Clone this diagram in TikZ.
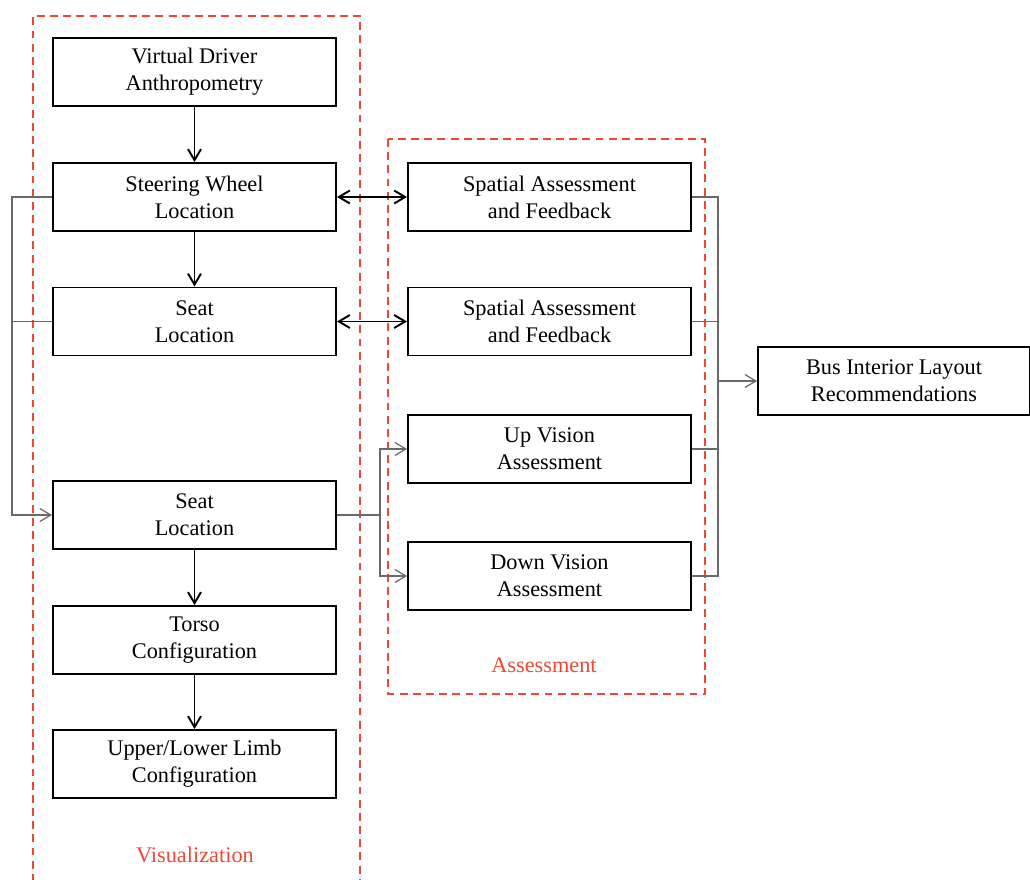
\documentclass[tikz,border=0pt]{standalone}
\usepackage{fontspec}
\setmainfont{Liberation Serif}
\usetikzlibrary{arrows.meta,positioning}
\definecolor{dashred}{RGB}{238,72,52}
\definecolor{linkgray}{RGB}{105,105,105}

\begin{document}
\begin{tikzpicture}[x=0.02cm, y=-0.02cm,
    >={Straight Barb[length=2.2mm,width=2.6mm]},
    stage/.style={draw, line width=1.1pt, minimum width=5.66cm, minimum height=1.36cm,
        inner sep=0pt, align=center, font=\fontsize{12.7}{15.3}\selectfont},
    flow/.style={->, line width=1.1pt},
    link/.style={linkgray, line width=0.7pt},
    group/.style={dashred, line width=1.1pt, dash pattern=on 4.5pt off 3pt},
    grouplabel/.style={text=dashred, font=\fontsize{12.7}{15.3}\selectfont}]
    \useasboundingbox (0,0) rectangle (1030,879);
    % dashed groups
    \draw[group] (33,895) |- (360,16) -- (360,895);
    \draw[group] (388,139) rectangle (705,694);
    \node (vislabel) [grouplabel] at (195,855) {Visualization};
    \node (asslabel) [grouplabel] at (544,665) {Assessment};
    % visualization column
    \node (driver) [stage] at (194.5,72) {Virtual Driver\\Anthropometry};
    \node (wheel) [stage] at (194.5,197) {Steering Wheel\\Location};
    \node (seat) [stage] at (194.5,321.5) {Seat\\Location};
    \node (seatb) [stage] at (194.5,515) {Seat\\Location};
    \node (torso) [stage] at (194.5,640) {Torso\\Configuration};
    \node (limb) [stage] at (194.5,764) {Upper/Lower Limb\\Configuration};
    % assessment column
    \node (spatial) [stage] at (549.5,197) {Spatial Assessment\\and Feedback};
    \node (spatialb) [stage] at (549.5,321.5) {Spatial Assessment\\and Feedback};
    \node (upvis) [stage] at (549.5,449) {Up Vision\\Assessment};
    \node (downvis) [stage] at (549.5,576) {Down Vision\\Assessment};
    \node (layout) [stage, minimum width=5.44cm] at (894,381) {Bus Interior Layout\\Recommendations};
    % main flow
    \draw[flow] (driver)--(wheel);
    \draw[flow] (wheel)--(seat);
    \draw[flow] (seatb)--(torso);
    \draw[flow] (torso)--(limb);
    \draw[flow, <->] (wheel)--(spatial);
    \draw[flow, <->] (seat)--(spatialb);
    % gray links
    \draw[link] (seat.west) -- ++(-40,0);
    \draw[link, ->] (wheel.west) -- ++(-40,0) |- (seatb.west);
    \draw[link, ->] (seatb.east) -- ++(43,0) coordinate (split) |- (upvis.west);
    \draw[link, ->] (split) |- (downvis.west);
    \coordinate (merge) at (718,381);
    \draw[link] (spatial.east) -| (merge) |- (downvis.east);
    \draw[link] (spatialb.east) -- (spatialb.east -| merge);
    \draw[link] (upvis.east) -- (upvis.east -| merge);
    \draw[link, ->] (merge) -- (layout);
\end{tikzpicture}
\end{document}
